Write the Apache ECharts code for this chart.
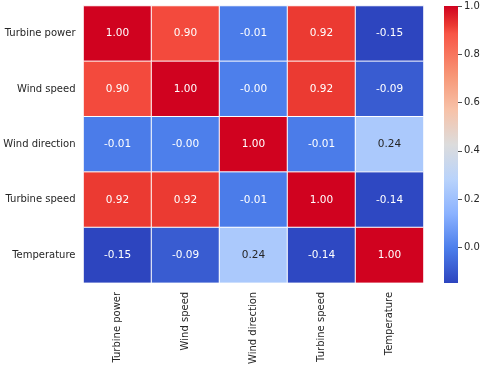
<!DOCTYPE html>
<html>
<head>
<meta charset="utf-8">
<script src="https://cdn.jsdelivr.net/npm/echarts@6/dist/echarts.min.js"></script>
<style>html,body{margin:0;padding:0;background:#fff;}#c{width:484px;height:367px;}</style>
</head>
<body>
<div id="c"></div>
<script>
var categories = ['Turbine power', 'Wind speed', 'Wind direction', 'Turbine speed', 'Temperature'];
var rowTurbinePower  = [1.00, 0.90, -0.01, 0.92, -0.148];
var rowWindSpeed     = [0.90, 1.00, -0.003, 0.92, -0.09];
var rowWindDirection = [-0.01, -0.003, 1.00, -0.01, 0.24];
var rowTurbineSpeed  = [0.92, 0.92, -0.01, 1.00, -0.14];
var rowTemperature   = [-0.148, -0.09, 0.24, -0.14, 1.00];
var colorbarTicks = [0.0, 0.2, 0.4, 0.6, 0.8, 1.0];

var rows = [rowTurbinePower, rowWindSpeed, rowWindDirection, rowTurbineSpeed, rowTemperature];
var vmin = Infinity, vmax = -Infinity;
var data = [];
rows.forEach(function (r, yi) {
  r.forEach(function (v, xi) {
    vmin = Math.min(vmin, v); vmax = Math.max(vmax, v);
    var dark = v > 0.12 && v < 0.72;
    data.push({ value: [xi, yi, v], label: { color: dark ? '#262626' : '#ffffff' } });
  });
});

// colormap stops (position 0..1 -> colour), a coolwarm-like map
var cmapStops = [
  [0.0, '#2d45bf'], [0.125, '#4c7eeb'], [0.25, '#8bb2ff'], [0.375, '#b9d3fb'],
  [0.5, '#dcdcdc'], [0.625, '#f7c2a8'], [0.75, '#f79676'], [0.9, '#f85546'],
  [0.93, '#eb3a32'], [1.0, '#d0021f']
];
// visualMap needs evenly spaced colours: sample the stops
function hex2rgb(h) { return [parseInt(h.substr(1,2),16), parseInt(h.substr(3,2),16), parseInt(h.substr(5,2),16)]; }
function sample(t) {
  for (var i = 1; i < cmapStops.length; i++) {
    if (t <= cmapStops[i][0]) {
      var a = cmapStops[i-1], b = cmapStops[i];
      var f = (t - a[0]) / (b[0] - a[0]);
      var ca = hex2rgb(a[1]), cb = hex2rgb(b[1]);
      return 'rgb(' + ca.map(function (c, k) { return Math.round(c + (cb[k] - c) * f); }).join(',') + ')';
    }
  }
  return cmapStops[cmapStops.length-1][1];
}
var cmap = [];
for (var i = 0; i <= 200; i++) cmap.push(sample(i / 200));

var chart = echarts.init(document.getElementById('c'), null, { renderer: 'canvas' });
var font = 'DejaVu Sans';
chart.setOption({
  animation: false,
  textStyle: { fontFamily: font },
  grid: [
    { left: 83.5, top: 6, right: 60.5, bottom: 84 },
    { left: 444, top: 6, width: 14, bottom: 84 }
  ],
  xAxis: [
    { type: 'category', gridIndex: 0, data: categories,
      axisLine: { show: false }, axisTick: { show: false }, splitLine: { show: false },
      axisLabel: { rotate: 90, margin: 9, fontSize: 10, color: '#262626', fontFamily: font } },
    { type: 'category', gridIndex: 1, data: ['cb'], show: false, boundaryGap: true }
  ],
  yAxis: [
    { type: 'category', gridIndex: 0, data: categories, inverse: true,
      axisLine: { show: false }, axisTick: { show: false }, splitLine: { show: false },
      axisLabel: { margin: 8, fontSize: 10, color: '#262626', fontFamily: font } },
    { type: 'value', gridIndex: 1, position: 'right', min: vmin, max: vmax,
      axisLine: { show: false }, splitLine: { show: false },
      axisTick: { show: true, length: 4, lineStyle: { color: '#262626', width: 0.8 }, customValues: colorbarTicks },
      axisLabel: { show: true, margin: 6, fontSize: 10, color: '#262626', fontFamily: font,
        customValues: colorbarTicks, formatter: function (v) { return v.toFixed(1); } } }
  ],
  visualMap: {
    type: 'continuous', min: vmin, max: vmax, seriesIndex: 0, show: false,
    inRange: { color: cmap }
  },
  series: [{
    type: 'heatmap', xAxisIndex: 0, yAxisIndex: 0, data: data,
    itemStyle: { borderColor: '#ffffff', borderWidth: 1 },
    label: { show: true, fontSize: 10.5, fontFamily: font,
      formatter: function (p) { return p.value[2].toFixed(2); } },
    emphasis: { disabled: true }
  }, {
    type: 'custom', xAxisIndex: 1, yAxisIndex: 1, silent: true,
    data: [[0, vmin, vmax]],
    renderItem: function (params, api) {
      var lo = api.coord([api.value(0), api.value(1)]);
      var hi = api.coord([api.value(0), api.value(2)]);
      var w = api.size([1, 0])[0];
      return {
        type: 'rect',
        shape: { x: lo[0] - w / 2, y: hi[1], width: w, height: lo[1] - hi[1] },
        style: { fill: new echarts.graphic.LinearGradient(0, 1, 0, 0,
          cmapStops.map(function (s) { return { offset: s[0], color: s[1] }; })) }
      };
    }
  }]
});
</script>
</body>
</html>
